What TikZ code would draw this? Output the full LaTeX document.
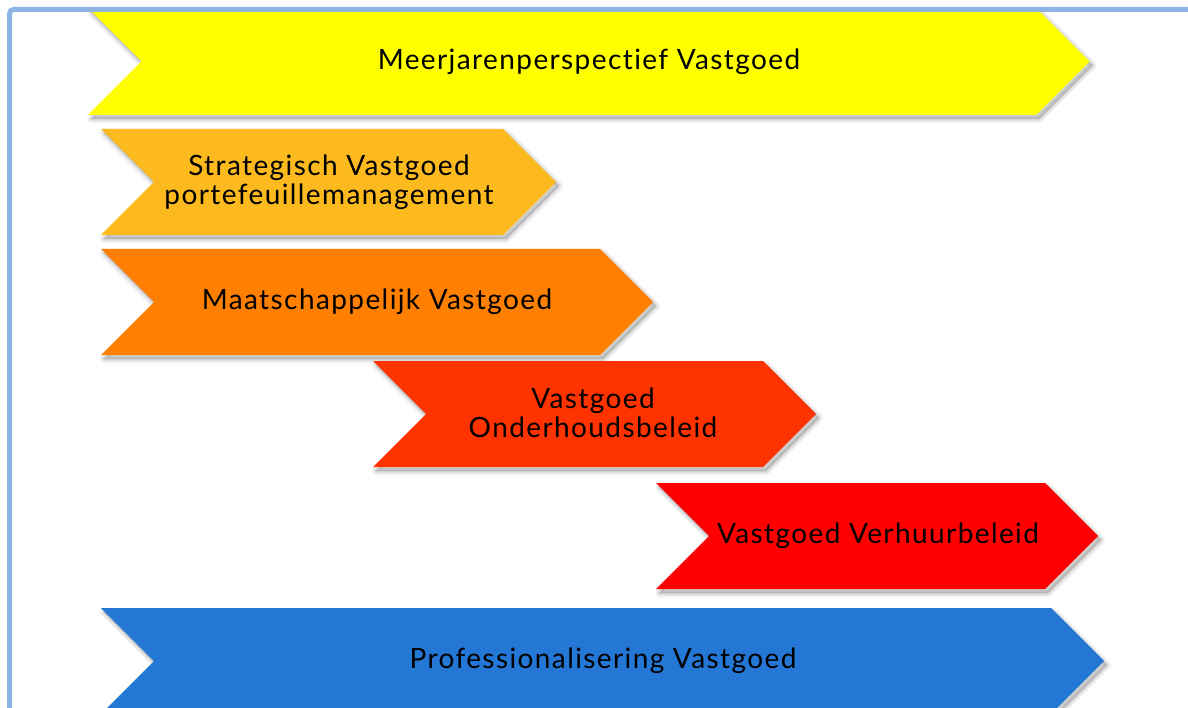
\documentclass[tikz,border=0pt]{standalone}
\usepackage{fontspec}
\setmainfont{Lato}[LetterSpace=5,Ligatures=NoCommon]
\definecolor{cyellow}{HTML}{FFFF00}
\definecolor{cgold}{HTML}{FCBA1E}
\definecolor{corange}{HTML}{FF8000}
\definecolor{credorange}{HTML}{FF3300}
\definecolor{cred}{HTML}{FF0000}
\definecolor{cblue}{HTML}{2477D4}
\definecolor{cborder}{HTML}{8EB4E3}
% top bottom left rightcorner colour
\newcommand{\mychev}[5]{%
  \pgfmathsetmacro\chM{(#1+#2)/2}%
  \pgfmathsetmacro\chD{(#2-#1)/2}%
  \pgfmathsetmacro\chR{#4+\chD}%
  \pgfmathsetmacro\chL{#3+\chD}%
  \foreach \w/\o in {9/0.035,6/0.05,3/0.07}{%
    \filldraw[black,opacity=\o,line width=\w pt,line join=round,shift={(3,4)}]
      (#3,#1) -- (#4,#1) -- (\chR,\chM) -- (#4,#2) -- (#3,#2) -- (\chL,\chM) -- cycle;}%
  \fill[#5] (#3,#1) -- (#4,#1) -- (\chR,\chM) -- (#4,#2) -- (#3,#2) -- (\chL,\chM) -- cycle;}
\begin{document}
\begin{tikzpicture}[x=1pt,y=-1pt,
  lbl/.style={font=\fontsize{28}{29}\selectfont, text=black, align=center, inner sep=0pt}]
\useasboundingbox (0,0) rectangle (1188,708);
\clip (0,0) rectangle (1188,708);
\fill[white] (0,0) rectangle (1188,708);
\mychev{8}{115}{88}{1036}{cyellow}
\mychev{129}{235}{101}{503}{cgold}
\mychev{249}{355}{101}{600}{corange}
\mychev{361}{467}{373}{763}{credorange}
\mychev{483}{589}{656}{1045}{cred}
\mychev{608}{714}{101}{1051}{cblue}
\node[lbl] (t1) at (589,62) {Meerjarenperspectief Vastgoed};
\node[lbl] (t2) at (329,182) {Strategisch Vastgoed\\portefeuillemanagement};
\node[lbl] (t3) at (377,302) {Maatschappelijk Vastgoed};
\node[lbl] (t4) at (593,413) {Vastgoed\\Onderhoudsbeleid};
\node[lbl] (t5) at (878,536) {Vastgoed Verhuurbeleid};
\node[lbl] (t6) at (603,661) {Professionalisering Vastgoed};
\draw[cborder, line width=5pt, rounded corners=4pt] (9.5,730) -- (9.5,9.5) -- (1210,9.5);
\end{tikzpicture}
\end{document}
